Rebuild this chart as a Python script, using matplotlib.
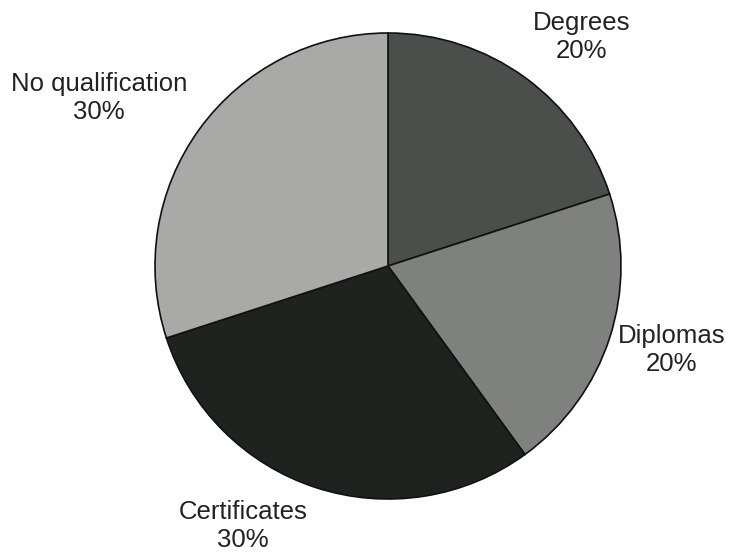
import matplotlib.pyplot as plt
import numpy as np

plt.rcParams['font.family'] = ['Liberation Sans', 'DejaVu Sans']

# data
categories = ['Degrees', 'Diplomas', 'Certificates', 'No qualification']
shares = [20, 20, 30, 30]
colors = ['#4b4f4b', '#7e817d', '#1f231f', '#a9aaa8']

fig = plt.figure(figsize=(7.29, 5.56), dpi=100)
ax = fig.add_axes([0, 0, 1, 1])

center = (388, 290)
radius = 233
wedges, _ = ax.pie(shares, colors=colors, startangle=90, counterclock=False,
                   center=center, radius=radius, frame=True,
                   wedgeprops=dict(edgecolor='#111111', linewidth=1.2))
ax.set_xlim(0, 729)
ax.set_ylim(0, 556)
ax.set_aspect('equal')
ax.axis('off')

# label positions (centre of each two-line label block)
label_pos = [(582, 519), (672, 206), (243, 30), (99, 458)]
for name, val, (x, y) in zip(categories, shares, label_pos):
    ax.text(x, y, f"{name}\n{val}%", ha='center', va='center',
            fontsize=18.5, color='#222222', linespacing=1.25)

fig.savefig('out.png', dpi=100)
